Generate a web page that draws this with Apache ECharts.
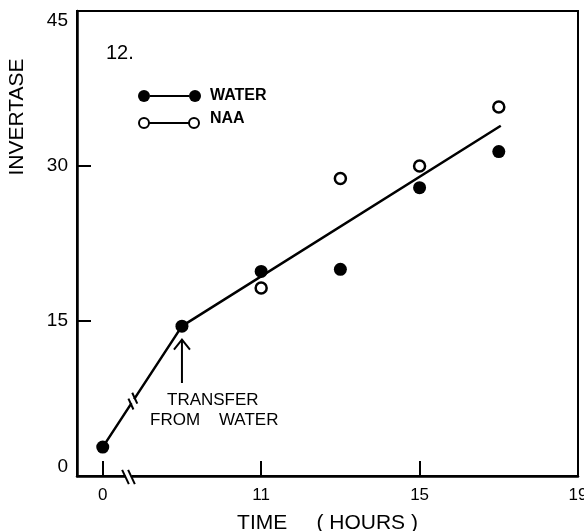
<!DOCTYPE html>
<html><head><meta charset="utf-8">
<script src="https://cdn.jsdelivr.net/npm/echarts@6/dist/echarts.min.js"></script>
<style>html,body{margin:0;padding:0;background:#fff}#c{width:584px;height:531px}</style>
</head><body><div id="c"></div>
<script>
// ---- data ----
const waterHours  = [0, 9, 11, 13, 15, 17];
const waterValues = [2.8, 14.5, 19.8, 20.0, 27.9, 31.4];
const naaHours    = [11, 13, 15, 17];
const naaValues   = [18.2, 28.8, 30.0, 35.7];
const fitHours    = [0, 9, 17.05];
const fitValues   = [2.8, 14.5, 33.9];
const xTickHours  = [0, 11, 15, 19];
const xTickLabels = ['0', '11', '15', '19'];
const yTicks      = [0, 15, 30, 45];

// broken time axis: hours before the break are drawn shifted to the right
const BREAK_BEFORE = 5, BREAK_SHIFT = 7;
const toAxis = h => (h < BREAK_BEFORE ? h + BREAK_SHIFT : h);
const pairs = (hs, vs) => hs.map((h, i) => [toAxis(h), vs[i]]);

const FONT = 'Liberation Sans';
const chart = echarts.init(document.getElementById('c'), null, {renderer: 'canvas'});
const xTickPos = xTickHours.map(toAxis);

chart.setOption({
  animation: false,
  backgroundColor: '#fff',
  grid: {left: 77, right: 6, top: 11, bottom: 55, show: true, borderColor: '#000', borderWidth: 2,
         containLabel: false, outerBoundsMode: 'none'},
  xAxis: {
    type: 'value', min: 6.35, max: 19,
    name: 'TIME     ( HOURS )', nameLocation: 'middle', nameGap: 37,
    nameTextStyle: {fontFamily: FONT, fontSize: 21, color: '#000'},
    axisLine: {show: true, lineStyle: {color: '#000', width: 2.5}},
    axisTick: {show: true, inside: true, length: 15, lineStyle: {color: '#000', width: 2},
               customValues: xTickPos.slice(0, 3)},
    axisLabel: {show: true, customValues: xTickPos, margin: 11,
                fontFamily: FONT, fontSize: 17, color: '#000',
                formatter: v => xTickLabels[xTickPos.indexOf(v)]},
    splitLine: {show: false}
  },
  yAxis: {
    type: 'value', min: yTicks[0], max: yTicks[yTicks.length - 1], interval: 15,
    axisLine: {show: true, lineStyle: {color: '#000', width: 2.5}},
    axisTick: {show: true, inside: true, length: 14, lineStyle: {color: '#000', width: 2}},
    axisLabel: {show: true, margin: 9, fontFamily: FONT, fontSize: 19, color: '#000',
                verticalAlignMinLabel: 'bottom', verticalAlignMaxLabel: 'top'},
    splitLine: {show: false}
  },
  series: [
    {name: 'fit', type: 'line', data: pairs(fitHours, fitValues), symbol: 'none',
     lineStyle: {color: '#000', width: 2.5}, z: 2},
    {name: 'WATER', type: 'scatter', data: pairs(waterHours, waterValues), symbol: 'circle',
     symbolSize: 13, itemStyle: {color: '#000', opacity: 1}, z: 4},
    {name: 'NAA', type: 'scatter', data: pairs(naaHours, naaValues), symbol: 'circle',
     symbolSize: 11, itemStyle: {color: '#fff', borderColor: '#000', borderWidth: 2.5, opacity: 1}, z: 4}
  ]
});

// ---- annotations ----
const px = (x, y) => chart.convertToPixel({gridIndex: 0}, [x, y]);
const g = [];
const txt = (x, y, s, opt) => g.push({type: 'text', x, y, z: 20,
  style: Object.assign({text: s, fontFamily: FONT, fill: '#000', align: 'left', verticalAlign: 'middle'}, opt || {})});
const seg = (a, b, w, color) => g.push({type: 'line', z: 15,
  shape: {x1: a[0], y1: a[1], x2: b[0], y2: b[1]}, style: {stroke: color || '#000', lineWidth: w}});

// y-axis title
g.push({type: 'text', x: 17, y: 117, rotation: Math.PI / 2, z: 20,
  style: {text: 'INVERTASE', fontFamily: FONT, fontSize: 21, fill: '#000', align: 'center', verticalAlign: 'middle'}});
// panel number
txt(106, 53, '12.', {fontSize: 20});
// legend
seg([150, 96], [189, 96], 2);
g.push({type: 'circle', shape: {cx: 144, cy: 96, r: 6}, style: {fill: '#000'}, z: 16});
g.push({type: 'circle', shape: {cx: 195, cy: 96, r: 6}, style: {fill: '#000'}, z: 16});
txt(210, 96, 'WATER', {fontSize: 16, fontWeight: 'bold'});
seg([149, 123], [189, 123], 2);
g.push({type: 'circle', shape: {cx: 144, cy: 123, r: 5}, style: {fill: '#fff', stroke: '#000', lineWidth: 2}, z: 16});
g.push({type: 'circle', shape: {cx: 194, cy: 123, r: 5}, style: {fill: '#fff', stroke: '#000', lineWidth: 2}, z: 16});
txt(210, 119, 'NAA', {fontSize: 16, fontWeight: 'bold'});

// arrow to the transfer point
const tip = px(toAxis(9), 13.2), tail = px(toAxis(9), 9.0);
seg(tail, tip, 2);
g.push({type: 'polyline', z: 15, shape: {points: [[tip[0] - 8, tip[1] + 10], tip, [tip[0] + 8, tip[1] + 10]]},
  style: {stroke: '#000', lineWidth: 2, fill: null}});
txt(167, 400, 'TRANSFER', {fontSize: 17});
txt(150, 420, 'FROM    WATER', {fontSize: 17});

// break marks on the fitted line
const p0 = px(toAxis(fitHours[0]), fitValues[0]), p1 = px(toAxis(fitHours[1]), fitValues[1]);
const L = Math.hypot(p1[0] - p0[0], p1[1] - p0[1]);
const ux = (p1[0] - p0[0]) / L, uy = (p1[1] - p0[1]) / L;
const t = 0.38;
const bc = [p0[0] + (p1[0] - p0[0]) * t, p0[1] + (p1[1] - p0[1]) * t];
const mv = [0.42 * 6, 0.91 * 6];
seg([bc[0] - ux * 2.5, bc[1] - uy * 2.5], [bc[0] + ux * 2.5, bc[1] + uy * 2.5], 4, '#fff');
[-3.5, 3.5].forEach(d => {
  const c = [bc[0] + ux * d, bc[1] + uy * d];
  seg([c[0] - mv[0], c[1] - mv[1]], [c[0] + mv[0], c[1] + mv[1]], 2);
});
// break marks on the time axis
const ab = px(7.65, 0);
seg([ab[0] - 3, ab[1]], [ab[0] + 3, ab[1]], 4, '#fff');
[-3, 3].forEach(d => {
  const c = [ab[0] + d, ab[1] + 1];
  seg([c[0] - 0.42 * 8, c[1] - 0.9 * 8], [c[0] + 0.42 * 8, c[1] + 0.9 * 8], 2);
});

chart.setOption({graphic: g});
</script></body></html>
